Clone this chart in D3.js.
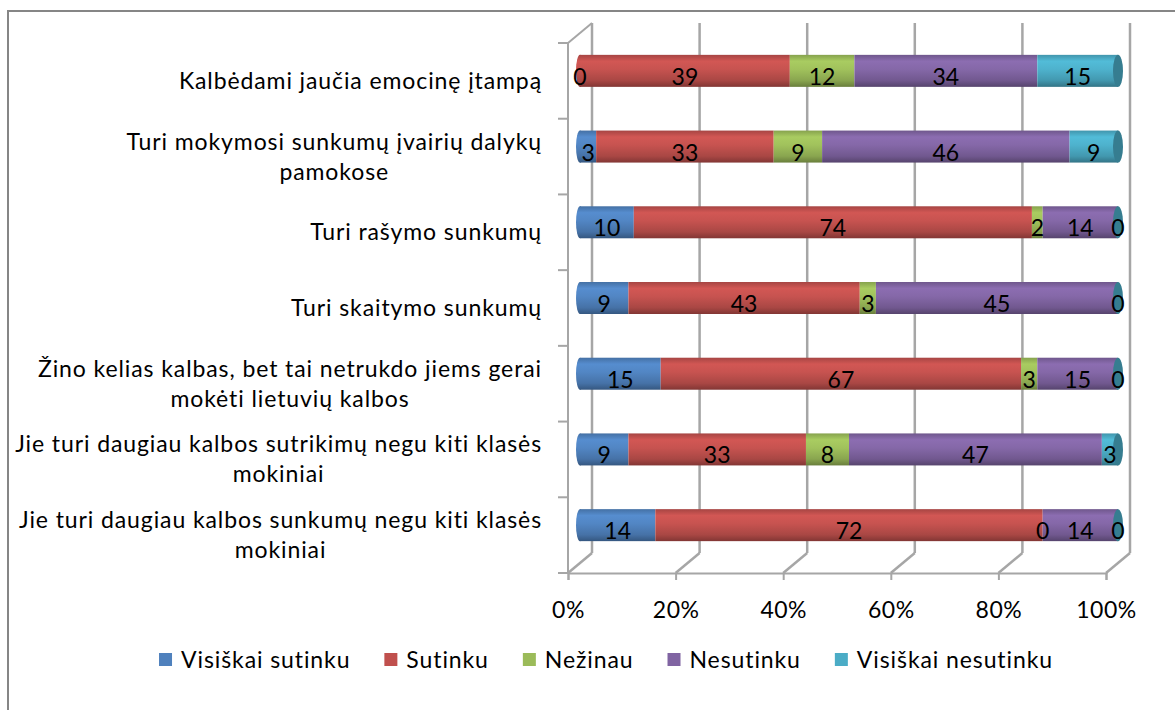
<!DOCTYPE html>
<html lang="lt">
<head>
<meta charset="UTF-8">
<title>Mokytojų nuomonė</title>
<script src="https://d3js.org/d3.v7.min.js"></script>
<style>
    body { margin: 0; background: #fff; }
    text { font-family: Lato, "Open Sans", sans-serif; fill: #000; }
    .cat { font-size: 23px; letter-spacing: 0.9px; }
    .val { font-size: 23px; text-anchor: middle; }
    .leg { font-size: 23px; letter-spacing: 0.9px; }
</style>
</head>
<body>
<script>
const categories = [
    "Kalbėdami jaučia emocinę įtampą",
    "Turi mokymosi sunkumų įvairių dalykų\npamokose",
    "Turi rašymo sunkumų",
    "Turi skaitymo sunkumų",
    "Žino kelias kalbas, bet tai netrukdo jiems gerai\nmokėti lietuvių kalbos",
    "Jie turi daugiau kalbos sutrikimų negu kiti klasės\nmokiniai",
    "Jie turi daugiau kalbos sunkumų negu kiti klasės\nmokiniai"
];
const seriesNames = ["Visiškai sutinku", "Sutinku", "Nežinau", "Nesutinku", "Visiškai nesutinku"];
const seriesColors = ["#4F81BD", "#C0504D", "#9BBB59", "#8064A2", "#4BACC6"];
const visiskaiSutinku = [0, 3, 10, 9, 15, 9, 14];
const sutinku = [39, 33, 74, 43, 67, 33, 72];
const nezinau = [12, 9, 2, 3, 3, 8, 0];
const nesutinku = [34, 46, 14, 45, 15, 47, 14];
const visiskaiNesutinku = [15, 9, 0, 0, 0, 3, 0];
const xTicks = [0, 20, 40, 60, 80, 100];

const seriesValues = [visiskaiSutinku, sutinku, nezinau, nesutinku, visiskaiNesutinku];
const rows = categories.map((c, i) => {
    const r = { cat: c };
    seriesNames.forEach((s, j) => r[s] = seriesValues[j][i]);
    return r;
});

const W = 1175, H = 710;
const svg = d3.select("body").append("svg")
    .attr("width", W)
    .attr("height", H);

// outer chart frame (right and bottom edges fall outside the picture)
svg.append("rect")
    .attr("x", 8).attr("y", 11)
    .attr("width", W).attr("height", H)
    .attr("fill", "#fff")
    .attr("stroke", "#868686")
    .attr("stroke-width", 2);

const dx = 24, dy = -20;   // depth of the 3D box
const x = d3.scaleLinear().domain([0, 100]).range([568, 1106]);
const y = d3.scaleBand().domain(categories).range([43, 573]);
const gridColor = "#a6a6a6";

// back wall gridlines
svg.append("g").selectAll("line")
    .data(xTicks)
    .join("line")
    .attr("x1", d => x(d) + dx).attr("x2", d => x(d) + dx)
    .attr("y1", y.range()[0] + dy).attr("y2", y.range()[1] + dy)
    .attr("stroke", gridColor).attr("stroke-width", 2.5);

// floor diagonals
svg.append("g").selectAll("line")
    .data(xTicks)
    .join("line")
    .attr("x1", d => x(d)).attr("x2", d => x(d) + dx)
    .attr("y1", y.range()[1]).attr("y2", y.range()[1] + dy)
    .attr("stroke", gridColor).attr("stroke-width", 2.5);

// left wall
const left = svg.append("g").attr("stroke", gridColor).attr("stroke-width", 2);
left.append("line")
    .attr("x1", x(0)).attr("x2", x(0))
    .attr("y1", y.range()[0]).attr("y2", y.range()[1]);
left.append("line")
    .attr("x1", x(0)).attr("x2", x(0) + dx)
    .attr("y1", y.range()[0]).attr("y2", y.range()[0] + dy);
left.selectAll("line.tick")
    .data(d3.range(categories.length + 1))
    .join("line")
    .attr("class", "tick")
    .attr("x1", x(0) - 10).attr("x2", x(0))
    .attr("y1", i => y.range()[0] + i * y.step())
    .attr("y2", i => y.range()[0] + i * y.step());

// x axis on the front floor edge
const xAxis = svg.append("g")
    .attr("transform", `translate(0,${y.range()[1]})`)
    .call(d3.axisBottom(x).tickValues(xTicks).tickFormat(d => d + "%").tickSize(7).tickPadding(22));
xAxis.select(".domain").attr("stroke", gridColor).attr("stroke-width", 2);
xAxis.selectAll(".tick line").attr("stroke", gridColor).attr("stroke-width", 2);
xAxis.selectAll(".tick text").attr("fill", "#000")
    .style("font-family", "Lato, sans-serif").style("font-size", "23px").style("letter-spacing", "0.5px");

// cylinder shading
const defs = svg.append("defs");
seriesColors.forEach((c, j) => {
    const base = d3.color(c);
    const g = defs.append("linearGradient")
        .attr("id", "cyl" + j)
        .attr("x1", 0).attr("y1", 0).attr("x2", 0).attr("y2", 1);
    [[0, base.darker(0.4)], [0.2, base.brighter(0.25)], [0.45, base.brighter(0.1)],
     [0.8, base.darker(0.35)], [1, base.darker(1.1)]].forEach(([o, col]) => {
        g.append("stop").attr("offset", o).attr("stop-color", col);
    });
});

const stack = d3.stack().keys(seriesNames)(rows);
const xb = d3.scaleLinear().domain([0, 100]).range([x(0) + dx / 2, x(100) + dx / 2]);
const barH = 32;
const barY = c => y(c) + y.bandwidth() / 2 + dy / 2 - barH / 2;

const bars = svg.append("g");
// left rounded end
bars.selectAll("ellipse.lend")
    .data(rows)
    .join("ellipse")
    .attr("class", "lend")
    .attr("cx", xb(0))
    .attr("cy", d => barY(d.cat) + barH / 2)
    .attr("rx", 4).attr("ry", barH / 2)
    .attr("fill", d => "url(#cyl" + seriesNames.findIndex(s => d[s] > 0) + ")");

stack.forEach((layer, j) => {
    bars.append("g").selectAll("rect")
        .data(layer)
        .join("rect")
        .attr("x", d => xb(d[0]))
        .attr("y", d => barY(d.data.cat))
        .attr("width", d => xb(d[1]) - xb(d[0]))
        .attr("height", barH)
        .attr("fill", "url(#cyl" + j + ")");
});

// right end cap
bars.selectAll("ellipse.rend")
    .data(rows)
    .join("ellipse")
    .attr("class", "rend")
    .attr("cx", xb(100))
    .attr("cy", d => barY(d.cat) + barH / 2)
    .attr("rx", 5).attr("ry", barH / 2)
    .attr("fill", d3.color(seriesColors[4]).darker(0.9));

// value labels
stack.forEach(layer => {
    svg.append("g").selectAll("text")
        .data(layer)
        .join("text")
        .attr("class", "val")
        .attr("x", d => xb((d[0] + d[1]) / 2))
        .attr("y", d => barY(d.data.cat) + barH / 2 + 14)
        .text(d => d[1] - d[0]);
});

// category labels, wrapped lines centred on the widest one
const labelRight = 542, lineH = 30;
categories.forEach(c => {
    const lines = c.split("\n");
    const t = svg.append("text")
        .attr("class", "cat")
        .attr("text-anchor", "middle")
        .attr("y", y(c) + y.bandwidth() / 2 - (lines.length - 1) * lineH / 2 + 8);
    const sp = t.selectAll("tspan")
        .data(lines)
        .join("tspan")
        .attr("x", 0)
        .attr("dy", (d, i) => i === 0 ? 0 : lineH)
        .text(d => d);
    const w = t.node().getBBox().width;
    sp.attr("x", labelRight - w / 2);
});

// legend
const legend = svg.append("g").attr("transform", "translate(0,660)");
const items = legend.selectAll("g")
    .data(seriesNames)
    .join("g");
items.append("rect")
    .attr("y", -7).attr("width", 13).attr("height", 13)
    .attr("fill", (d, i) => seriesColors[i]);
items.append("text")
    .attr("class", "leg")
    .attr("x", 22).attr("y", 8)
    .text(d => d);
let pos = 0;
const offs = [];
items.each(function () {
    offs.push(pos);
    pos += this.getBBox().width + 34;
});
const start = 606 - (pos - 34) / 2;
items.attr("transform", (d, i) => `translate(${start + offs[i]},0)`);
</script>
</body>
</html>
